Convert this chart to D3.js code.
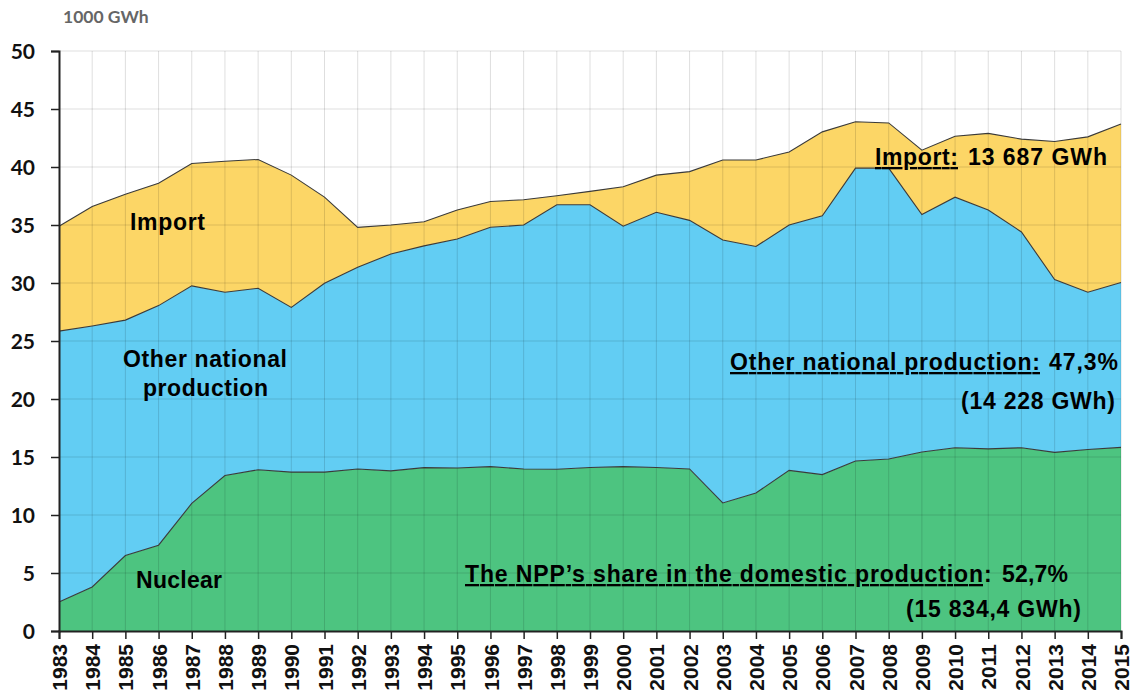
<!DOCTYPE html>
<html>
<head>
<meta charset="utf-8">
<script src="https://cdn.jsdelivr.net/npm/d3@7"></script>
<style>
html,body{margin:0;padding:0;background:#fff;}
svg{display:block;}
</style>
</head>
<body>
<svg id="chart" width="1132" height="697"></svg>
<script>
// ---- data (1000 GWh) ----
const years = [1983,1984,1985,1986,1987,1988,1989,1990,1991,1992,1993,1994,1995,1996,1997,1998,1999,2000,2001,2002,2003,2004,2005,2006,2007,2008,2009,2010,2011,2012,2013,2014,2015];
const nuclear = [2.5,3.8,6.5,7.4,11.0,13.4,13.9,13.7,13.7,13.97,13.8,14.08,14.05,14.17,13.97,13.94,14.1,14.17,14.1,13.97,11.04,11.9,13.85,13.48,14.65,14.83,15.43,15.8,15.7,15.8,15.4,15.64,15.83];
const otherNational = [23.35,22.5,20.3,20.65,18.75,15.8,15.65,14.2,16.27,17.38,18.7,19.12,19.75,20.63,21.03,22.81,22.65,20.73,22.0,21.43,22.66,21.25,21.15,22.32,25.25,25.07,20.47,21.6,20.6,18.6,14.9,13.56,14.22];
const importVals = [9.05,10.3,10.85,10.55,10.55,11.3,11.1,11.4,7.43,3.45,2.5,2.08,2.5,2.23,2.18,0.77,1.15,3.4,3.2,4.2,6.9,7.45,6.3,7.23,4.0,3.9,5.55,5.25,6.6,8.0,11.9,13.4,13.65];
const yTicks = [0,5,10,15,20,25,30,35,40,45,50];
const unitLabel = "1000 GWh";
const seriesKeys = ["nuclear","other","import"];
const seriesColors = {nuclear:"#4dc480", other:"#62cdf3", import:"#fcd666"};

const rows = years.map((y,i)=>({year:y, nuclear:nuclear[i], other:otherNational[i], import:importVals[i]}));

const svg = d3.select("#chart");
const margin = {left:59, right:1121, top:51, bottom:631};

const x = d3.scaleLinear().domain([years[0], years[years.length-1]]).range([margin.left, margin.right]);
const y = d3.scaleLinear().domain([0,50]).range([margin.bottom, margin.top]);

const stack = d3.stack().keys(seriesKeys);
const layers = stack(rows);

const area = d3.area().x(d=>x(d.data.year)).y0(d=>y(d[0])).y1(d=>y(d[1]));
const topLine = d3.line().x(d=>x(d.data.year)).y(d=>y(d[1]));

function drawGrid(g, op){
  g.selectAll(".h").data(yTicks.filter(t=>t>0)).join("line")
    .attr("x1", margin.left).attr("x2", margin.right)
    .attr("y1", d=>y(d)).attr("y2", d=>y(d))
    .attr("stroke","#000").attr("stroke-opacity",op).attr("stroke-width",1);
  g.selectAll(".v").data(years.slice(1)).join("line")
    .attr("x1", d=>x(d)).attr("x2", d=>x(d))
    .attr("y1", margin.top).attr("y2", margin.bottom)
    .attr("stroke","#000").attr("stroke-opacity",op).attr("stroke-width",1);
}

svg.append("g").selectAll("path").data(layers).join("path")
  .attr("d", area).attr("fill", d=>seriesColors[d.key]);

drawGrid(svg.append("g"), 0.13);

svg.append("g").selectAll("path").data(layers).join("path")
  .attr("d", topLine).attr("fill","none").attr("stroke","#3a3a3a").attr("stroke-width",1.1);

// axes
const yAxis = d3.axisLeft(y).tickValues(yTicks).tickSize(8).tickPadding(5).tickFormat(d3.format("d"));
const gy = svg.append("g").attr("transform",`translate(${margin.left},0)`).call(yAxis);
gy.select(".domain").attr("stroke","#222").attr("stroke-width",2);
gy.selectAll(".tick line").attr("stroke","#222").attr("stroke-width",1.5);
gy.selectAll(".tick text").attr("font-family","Lato, 'Open Sans', sans-serif").attr("font-weight","bold")
  .attr("font-size","21px").attr("fill","#111").attr("x",-24).attr("dy","0.34em");

const xAxis = d3.axisBottom(x).tickValues(years).tickSize(8).tickFormat(d3.format("d"));
const gx = svg.append("g").attr("transform",`translate(0,${margin.bottom})`).call(xAxis);
gx.select(".domain").attr("stroke","#222").attr("stroke-width",2);
gx.selectAll(".tick line").attr("stroke","#222").attr("stroke-width",1.5);
gx.selectAll(".tick text")
  .attr("font-family","'Liberation Sans', Arial, sans-serif").attr("font-weight","bold")
  .attr("font-size","21px").attr("fill","#111")
  .attr("text-anchor","end").attr("transform","rotate(-90)")
  .attr("x",-13).attr("y",0).attr("dy","0.36em");

// unit label
svg.append("text").attr("x",63).attr("y",23).text(unitLabel)
  .attr("font-family","Lato, 'Open Sans', sans-serif").attr("font-weight","bold")
  .attr("font-size","17.5px").attr("fill","#666");

// annotations
const ann = [
  {t:"Import", x:130, y:230, w:75},
  {t:"Other national", x:123, y:367, w:164},
  {t:"production", x:143, y:395.5, w:125},
  {t:"Nuclear", x:136, y:588, w:86},
  {t:"Import:", x:875, y:165, w:83, u:true},
  {t:"13 687 GWh", x:968, y:165, w:139},
  {t:"Other national production:", x:730, y:370, w:310, u:true},
  {t:"47,3%", x:1049, y:370, w:69},
  {t:"(14 228 GWh)", x:961, y:409, w:154},
  {t:"The NPP\u2019s share in the domestic production", x:465, y:582, w:518, u:true},
  {t:":", x:984, y:582, w:6},
  {t:"52,7%", x:1002, y:582, w:66},
  {t:"(15 834,4 GWh)", x:906, y:617, w:175}
];
svg.append("g").selectAll("text").data(ann).join("text")
  .attr("x",d=>d.x).attr("y",d=>d.y)
  .attr("textLength",d=>d.w).attr("lengthAdjust","spacing")
  .attr("font-family","'Liberation Sans', Arial, sans-serif").attr("font-weight","bold")
  .attr("font-size","23px").attr("fill","#000")
  .style("text-decoration",d=>d.u?"underline":"none")
  .text(d=>d.t);
</script>
</body>
</html>
